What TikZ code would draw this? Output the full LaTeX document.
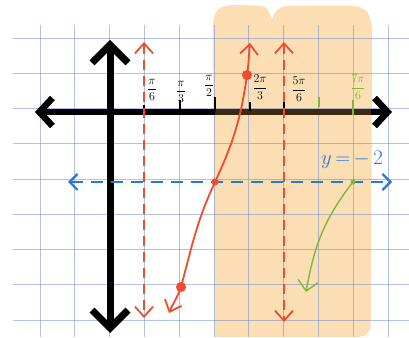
\documentclass[tikz,border=0pt]{standalone}
\usepackage{amsmath}
\usetikzlibrary{arrows.meta}
\definecolor{gridc}{RGB}{100,135,205}
\definecolor{hl}{RGB}{251,222,180}
\definecolor{redc}{RGB}{240,75,45}
\definecolor{bluec}{RGB}{40,120,220}
\definecolor{greenc}{RGB}{125,185,55}
\definecolor{brownc}{RGB}{62,40,14}
\tikzset{
  gridline/.style={gridc, opacity=0.5, line width=1pt},
  xaxis/.style={line width=6.5pt, line cap=round, {Straight Barb[length=13pt,width=28pt]}-{Straight Barb[length=13pt,width=28pt]}},
  yaxis/.style={line width=7pt, line cap=round, {Straight Barb[length=18pt,width=36pt]}-{Straight Barb[length=18pt,width=36pt]}},
  asym/.style={redc, line width=1.8pt, dash pattern=on 10pt off 6pt, {Straight Barb[length=10pt,width=18pt]}-{Straight Barb[length=10pt,width=18pt]}},
  graphline/.style={redc, line width=1.8pt, {Straight Barb[length=10pt,width=18pt]}-{Straight Barb[length=10pt,width=18pt]}},
  bluedash/.style={bluec, line width=2.2pt, dash pattern=on 12pt off 8pt, {Straight Barb[length=8pt,width=16pt]}-{Straight Barb[length=8pt,width=16pt]}},
  greenline/.style={greenc, line width=1.4pt, -{Straight Barb[length=10pt,width=20pt]}},
  tickm/.style={line width=1.3pt},
  gtick/.style={greenc, line width=1.5pt},
  lab/.style={font=\large, inner sep=0pt},
  reddot/.style={fill=redc, draw=none},
}
\begin{document}
\begin{tikzpicture}[x=1pt,y=1pt]
\useasboundingbox (0,0) rectangle (409,337);
\fill[white] (0,0) rectangle (409,337);
% highlight region
\fill[hl] (215,0) -- (213,307) .. controls (213,329) and (218,332) .. (240,332) -- (262,331)
  .. controls (268,331) and (270,322) .. (272,317) .. controls (274,325) and (278,331) .. (290,331)
  -- (350,331) .. controls (368,331) and (372,322) .. (372,302) -- (371,17)
  .. controls (371,2) and (365,0) .. (355,0) -- cycle;
% grid
\foreach \x in {40,74.8,109.6,144.4,179.2,214,248.8,283.6,318.4,353.2,388}
  \draw[gridline] (\x,0) -- (\x,312);
\foreach \y in {298,263,228,193,157,122,87,52,17}
  \draw[gridline] (13,\y) -- (409,\y);
% axes
\coordinate (xl) at (35,225);
\coordinate (xr) at (392,225);
\coordinate (yt) at (110,297);
\coordinate (yb) at (110,4);
\draw[xaxis] (xl) -- (xr);
\coordinate (hb1) at (215,225);
\coordinate (hb2) at (371,225);
\draw[brownc, line width=6.5pt] (hb1) -- (hb2);
\draw[yaxis] (yt) -- (yb);
% ticks
\foreach \x/\h in {144/232,180/237,215/240,250/235,284/237}
  \draw[tickm] (\x,226) -- (\x,\h);
\draw[gtick] (319,230) -- (319,240);
\draw[gtick] (353,222) -- (353,237);
% tick labels
\node[lab] (l1) at (152,247) {$\dfrac{\pi}{6}$};
\node[lab] (l2) at (181,245) {$\dfrac{\pi}{3}$};
\node[lab] (l3) at (209,251) {$\dfrac{\pi}{2}$};
\node[lab] (l4) at (260,250) {$\dfrac{2\pi}{3}$};
\node[lab] (l5) at (299,248) {$\dfrac{5\pi}{6}$};
\node[lab, text=greenc] (l6) at (358,250) {$\dfrac{7\pi}{6}$};
% asymptotes
\coordinate (a1t) at (144,295);
\coordinate (a1b) at (144,19);
\coordinate (a2t) at (284,295);
\coordinate (a2b) at (284,15);
\draw[asym] (a1t) -- (a1b);
\draw[asym] (a2t) -- (a2b);
% blue line
\coordinate (bl) at (68,155);
\coordinate (br) at (392,155);
\draw[bluedash] (bl) -- (br);
\node[text=bluec, font=\huge, inner sep=0pt] (ylab) at (352,177) {$y\,{=}\,{-}\,2$};
% red graph
\coordinate (r1) at (250,294);
\coordinate (rA) at (247,262);
\coordinate (rB) at (215,155);
\coordinate (rC) at (181,50);
\coordinate (r2) at (169,24);
\draw[graphline] (r1) to[out=-95,in=82] (rA) to[out=-98,in=65] (rB) to[out=-115,in=75] (rC) to[out=-108,in=68] (r2);
\fill[reddot] (rA) circle (5);
\fill[reddot] (rC) circle (5);
\fill[reddot] (rB) circle (3.5);
% green graph
\coordinate (g1) at (353,155);
\coordinate (g2) at (306,45);
\draw[greenline] (g1) to[out=-128,in=80] (g2);
\fill[greenc] (g1) circle (2.5);
\end{tikzpicture}
\end{document}
